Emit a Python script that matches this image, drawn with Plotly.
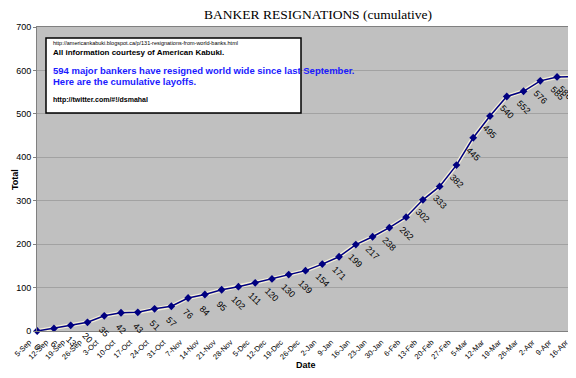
import plotly.graph_objects as go

dates = ["5-Sep", "12-Sep", "19-Sep", "26-Sep", "3-Oct", "10-Oct", "17-Oct", "24-Oct",
         "31-Oct", "7-Nov", "14-Nov", "21-Nov", "28-Nov", "5-Dec", "12-Dec", "19-Dec",
         "26-Dec", "2-Jan", "9-Jan", "16-Jan", "23-Jan", "30-Jan", "6-Feb", "13-Feb",
         "20-Feb", "27-Feb", "5-Mar", "12-Mar", "19-Mar", "26-Mar", "2-Apr", "9-Apr", "16-Apr"]
totals = [0, 6, 13, 20, 35, 42, 43, 51, 57, 76, 84, 95, 102, 111, 120, 130, 139, 154,
          171, 199, 217, 238, 262, 302, 333, 382, 445, 495, 540, 552, 576, 585, 586]
y_ticks = [0, 100, 200, 300, 400, 500, 600, 700]

idx = list(range(len(dates)))

fig = go.Figure()
fig.add_trace(go.Scatter(x=idx, y=totals, mode="lines",
                         line=dict(color="#f4efd8", width=4), hoverinfo="skip",
                         cliponaxis=False))
fig.add_trace(go.Scatter(x=idx, y=totals, mode="lines+markers",
                         line=dict(color="#000080", width=1.5),
                         marker=dict(symbol="diamond", size=6, color="#000080"),
                         cliponaxis=False))

for i, v in zip(idx, totals):
    fig.add_annotation(x=i, y=v, xref="x", yref="y", text=str(v), showarrow=False,
                       textangle=45, yshift=-16, xshift=(-8 if i == len(idx) - 1 else 0),
                       font=dict(family="Liberation Sans, Arial", size=9, color="black"))

# plot area in page pixels: x 37..574, y 27..331 (page has 8px body margin)
def px_x(px):
    return (px - 37) / 537

def px_y(py):
    return (331 - py) / 304

# Info box
fig.add_shape(type="rect", xref="paper", yref="paper", x0=px_x(46), x1=px_x(301),
              y0=px_y(113), y1=px_y(38), fillcolor="white",
              line=dict(color="black", width=1.5), layer="above")
box_lines = [
    ("http://americankabuki.blogspot.ca/p/131-resignations-from-world-banks.html", 5.5, "black", 43, False),
    ("All information courtesy of American Kabuki.", 8, "black", 52, True),
    ("594 major bankers have resigned world wide since last September.", 9.5, "#1a1aff", 70, True),
    ("Here are the cumulative layoffs.", 9.5, "#1a1aff", 81, True),
    ("http://twitter.com/#!/dsmahal", 7, "black", 100, True),
]
for txt, sz, col, ypx, bold in box_lines:
    fig.add_annotation(xref="paper", yref="paper", x=px_x(51), y=px_y(ypx),
                       text=("<b>%s</b>" % txt) if bold else txt, showarrow=False,
                       xanchor="left", yanchor="middle",
                       font=dict(family="Liberation Sans, Arial", size=sz, color=col))

fig.add_annotation(xref="paper", yref="paper", x=0.5, y=px_y(365),
                   text="<b>Date</b>", showarrow=False, xanchor="center", yanchor="middle",
                   font=dict(family="Liberation Sans, Arial", size=9, color="black"))
fig.add_annotation(xref="paper", yref="paper", x=px_x(15), y=px_y(180),
                   text="<b>Total</b>", showarrow=False, textangle=-90,
                   xanchor="center", yanchor="middle",
                   font=dict(family="Liberation Sans, Arial", size=9, color="black"))

fig.update_layout(
    width=568, height=370,
    margin=dict(l=29, r=2, t=19, b=47),
    paper_bgcolor="white", plot_bgcolor="#c0c0c0",
    showlegend=False,
    title=dict(text="BANKER RESIGNATIONS (cumulative)", x=310 / 568, xanchor="center",
               y=1 - 6 / 370, yanchor="middle",
               font=dict(family="Liberation Serif, Times New Roman", size=13.5, color="black")),
    xaxis=dict(range=[-0.01, len(dates) - 0.99], tickvals=idx, ticktext=dates, tickangle=-45,
               showgrid=False, zeroline=False, showline=True, linecolor="#808080",
               mirror=True, linewidth=1, ticklabeloverflow="allow",
               ticklabelshift=-8, ticklabelstandoff=3,
               tickfont=dict(family="Liberation Sans, Arial", size=7.5, color="black")),
    yaxis=dict(range=[0, 700], tickvals=y_ticks, showgrid=True, gridcolor="#a2a2a2",
               gridwidth=1, zeroline=False, showline=True, linecolor="#808080",
               mirror=True, linewidth=1, ticks="outside", ticklen=3, tickcolor="#808080",
               tickfont=dict(family="Liberation Sans, Arial", size=9, color="black")),
)

fig.write_html("out.html")
